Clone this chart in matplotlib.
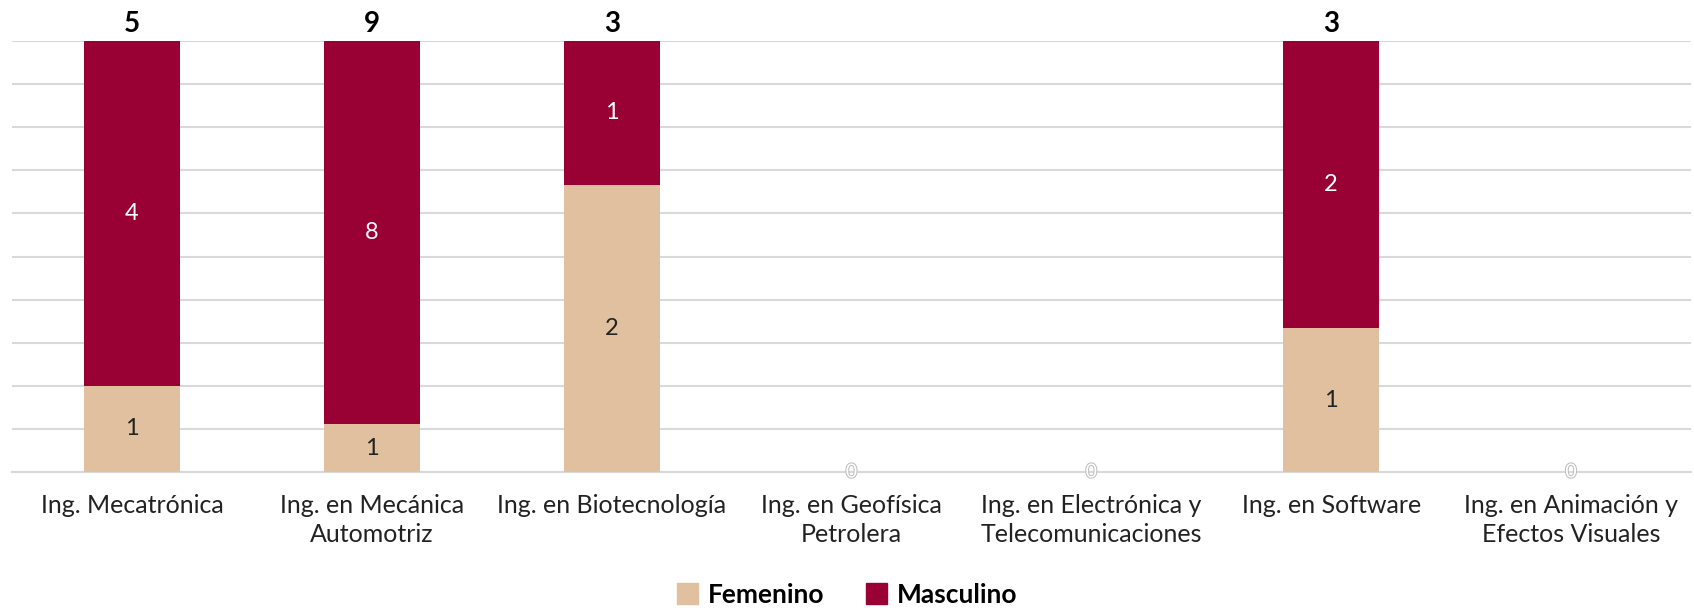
import numpy as np
import matplotlib.pyplot as plt
import matplotlib.patheffects as pe
from matplotlib.patches import Patch

plt.rcParams["font.family"] = ["Lato", "DejaVu Sans"]

categorias = ["Ing. Mecatrónica", "Ing. en Mecánica\nAutomotriz", "Ing. en Biotecnología",
              "Ing. en Geofísica\nPetrolera", "Ing. en Electrónica y\nTelecomunicaciones",
              "Ing. en Software", "Ing. en Animación y\nEfectos Visuales"]
femenino = np.array([1, 1, 2, 0, 0, 1, 0])
masculino = np.array([4, 8, 1, 0, 0, 2, 0])

c_fem = "#E0C09E"
c_mas = "#990033"

total = femenino + masculino
safe = np.where(total == 0, 1, total)
p_fem = femenino / safe * 100
p_mas = masculino / safe * 100

fig = plt.figure(figsize=(16.94, 6.1), dpi=100)
ax = fig.add_axes([0.0071, 0.2262, 0.9911, 0.7066])

x = np.arange(len(categorias))
w = 0.4
ax.bar(x, p_fem, w, color=c_fem, zorder=3)
ax.bar(x, p_mas, w, bottom=p_fem, color=c_mas, zorder=3)

for i in range(len(x)):
    if total[i] == 0:
        ax.text(x[i], 0, "0", ha="center", va="center", fontsize=14, color="white",
                path_effects=[pe.withStroke(linewidth=1.5, foreground="#BFBFBF")], zorder=5)
        continue
    if femenino[i] > 0:
        ax.text(x[i], p_fem[i] / 2, str(femenino[i]), ha="center", va="center",
                fontsize=17, color="#222222", zorder=4)
    if masculino[i] > 0:
        ax.text(x[i], p_fem[i] + p_mas[i] / 2, str(masculino[i]), ha="center", va="center",
                fontsize=17, color="white", zorder=4)
    ax.text(x[i], 101, str(total[i]), ha="center", va="bottom", fontsize=20,
            fontweight="bold", color="black", zorder=4)

ax.set_xlim(-0.5, len(x) - 0.5)
ax.set_ylim(0, 100)
ax.set_yticks(np.arange(0, 101, 10))
ax.yaxis.grid(True, color="#D9D9D9", linewidth=1.5, zorder=0)
ax.tick_params(axis="y", left=False, labelleft=False)
ax.tick_params(axis="x", length=0, pad=16)
ax.set_xticks(x)
ax.set_xticklabels(categorias, fontsize=18, color="#222222", linespacing=1.3)
for s in ["top", "right", "left"]:
    ax.spines[s].set_visible(False)
ax.spines["bottom"].set_color("#D9D9D9")
ax.spines["bottom"].set_linewidth(1.5)

handles = [Patch(color=c_fem, label="Femenino"), Patch(color=c_mas, label="Masculino")]
leg = fig.legend(handles=handles, loc="center", bbox_to_anchor=(0.5, 0.025), ncol=2,
                 frameon=False, handlelength=0.8, handleheight=0.8, handletextpad=0.35,
                 columnspacing=1.6, prop={"size": 19, "weight": "bold"})

fig.savefig("out.png", dpi=100)
